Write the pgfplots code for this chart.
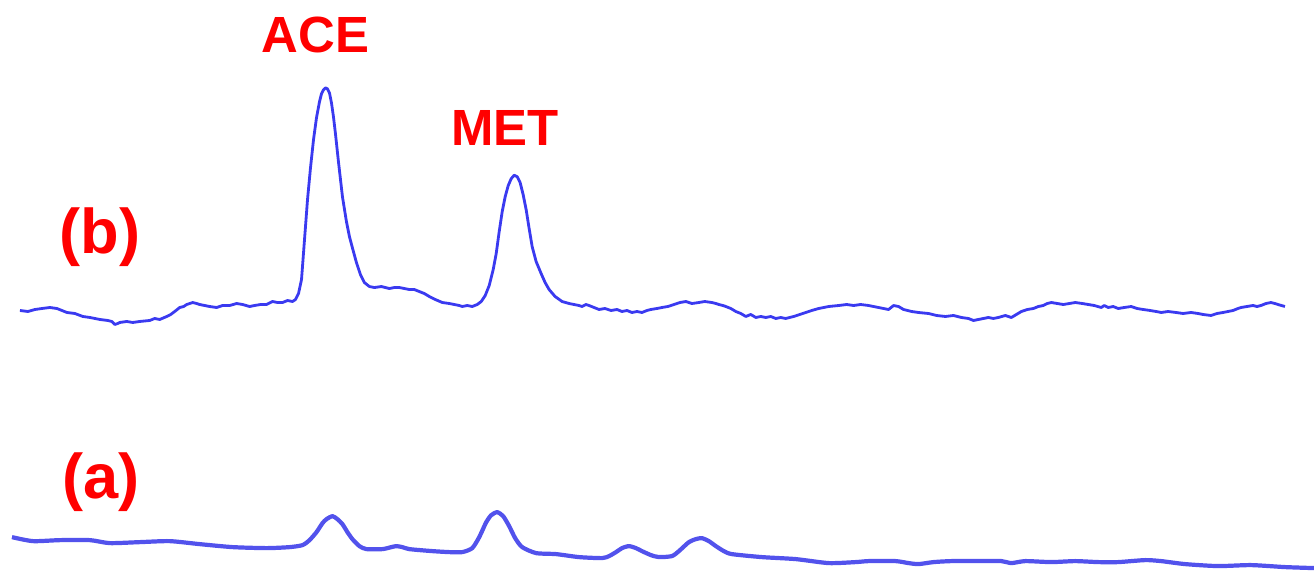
\documentclass[border=0pt]{standalone}
\usepackage{pgfplots}
\pgfplotsset{compat=1.18}
\usepackage{fontspec}
\setmainfont{Liberation Sans}
\definecolor{traceB}{RGB}{58,58,240}
\definecolor{traceA}{RGB}{82,82,236}
\definecolor{lbl}{RGB}{255,0,0}
\begin{document}
\begin{tikzpicture}
\begin{axis}[
  scale only axis,
  width=13.16cm, height=5.72cm,
  xmin=0, xmax=1316, ymin=0, ymax=572,
  y dir=reverse,
  axis line style={draw=none},
  ticks=none,
  clip=false,
]
% chromatogram (b): spiked sample
\addplot[traceB, line width=0.8pt, line join=round] coordinates {
(20,311) (28,312) (35,310) (42,309) (50,308) (57,309) (62,311) (67,313) (75,314) (83,317) (90,318)
(100,320) (108,321) (112,322) (115,325) (118,324) (120,323) (127,322) (133,323) (140,322) (150,321)
(155,319) (160,320) (167,317) (171,315) (175,312) (180,308) (184,307) (187,305) (193,303) (197,304)
(200,305) (205,306) (210,307) (217,308) (223,306) (230,306) (237,304) (243,305) (250,307) (255,306)
(261,305) (267,305) (273,302) (278,303) (283,303) (288,301) (293,302) (296,300) (299,294)
(302,280) (305,240) (308,200) (311,168) (314,140) (317,118) (320,102) (322,94) (324,90) (326,88)
(328,89) (330,93) (332,103) (334,117) (336,134) (339,162) (343,197) (347,222) (350,237) (354,252)
(357,263) (361,275) (365,283) (370,287) (375,288) (382,287) (390,289) (395,288) (400,288) (405,289)
(410,290) (415,290) (420,292) (425,294) (430,297) (436,300) (443,303) (450,304) (455,305) (460,306)
(463,307) (468,306) (473,307) (478,305) (482,302) (486,296) (490,286) (494,270) (497,254) (500,232)
(503,212) (506,197) (509,186) (512,179) (515,175.5) (518,177) (521,183) (524,195) (527,210) (530,229)
(533,247) (537,262) (542,274) (546,283) (550,290) (556,297) (563,302) (570,304) (575,305) (580,306)
(583,307) (587,305) (590,306) (595,308) (600,310) (606,309) (612,311) (618,310) (623,312) (628,311)
(633,313) (638,312) (643,313) (648,311) (652,310) (658,309) (663,308) (669,307) (675,305) (681,303)
(687,302) (693,304) (700,303) (706,302) (713,303) (717,304) (720,305) (724,306) (727,307) (732,309)
(737,312) (742,314) (747,317) (752,315) (757,318) (762,317) (767,318) (772,317) (777,319) (782,318)
(787,319) (791,318) (795,317) (801,315) (807,313) (813,311) (820,309) (830,307) (840,306) (848,305)
(855,306) (862,305) (870,306) (875,307) (880,308) (885,309) (890,310) (895,306) (900,307) (905,310)
(909,311) (913,312) (920,313) (930,314) (938,316) (947,317) (955,316) (963,318) (970,319) (975,321)
(980,320) (985,319) (990,318) (995,319) (1000,318) (1007,316) (1013,318) (1018,315) (1023,312) (1029,310)
(1035,309) (1040,307) (1045,306) (1049,304) (1053,303) (1059,304) (1065,305) (1071,304) (1077,303) (1084,304)
(1090,305) (1096,306) (1103,308) (1106,306) (1110,308) (1115,307) (1120,309) (1126,308) (1133,307) (1139,309)
(1145,310) (1152,311) (1158,312) (1163,313) (1170,312) (1178,313) (1185,314) (1193,313) (1200,314) (1205,315)
(1213,316) (1219,314) (1225,313) (1230,312) (1235,311) (1240,309) (1243,308) (1249,307) (1255,306) (1259,307)
(1263,306) (1268,304) (1273,303) (1277,304) (1280,305) (1287,307)
};
% chromatogram (a): blank sample
\addplot[traceA, line width=1.2pt, smooth, tension=0.4, line join=round] coordinates {
(12,538) (33,542) (60,541) (90,541) (110,544) (140,543) (170,542) (200,545) (233,548) (267,549)
(290,548) (303,546) (310,541) (317,533) (323,524) (327,520) (333,517) (338,520) (343,525) (348,533)
(353,540) (360,547) (367,550) (383,550) (392,548) (397,547) (403,548) (410,550) (433,552) (450,553)
(463,553) (473,549) (480,538) (487,523) (492,516) (498,513) (504,517) (510,527) (516,539) (523,548)
(537,554) (557,555) (580,558) (603,559) (610,557) (617,553) (623,549) (630,547) (637,549) (643,552)
(652,556) (660,558) (673,557) (680,552) (690,543) (697,540) (703,539) (710,542) (717,547) (725,552)
(733,555) (763,558) (797,560) (830,564) (857,563) (870,562) (897,562) (910,564) (920,565) (935,563)
(953,562) (980,562) (1003,562) (1013,564) (1027,562) (1053,563) (1077,562) (1100,563) (1120,563) (1147,561)
(1163,562) (1187,565) (1220,567) (1253,566) (1287,568) (1316,569)
};
\node[text=lbl, font=\fontsize{14.5}{16}\selectfont\bfseries] at (axis cs:316,35) {ACE};
\node[text=lbl, font=\fontsize{14.5}{16}\selectfont\bfseries] at (axis cs:506,128) {MET};
\node[text=lbl, font=\fontsize{18}{20}\selectfont\bfseries] at (axis cs:100,238) {(b)};
\node[text=lbl, font=\fontsize{18}{20}\selectfont\bfseries] at (axis cs:101,483) {(a)};
\end{axis}
\end{tikzpicture}
\end{document}
